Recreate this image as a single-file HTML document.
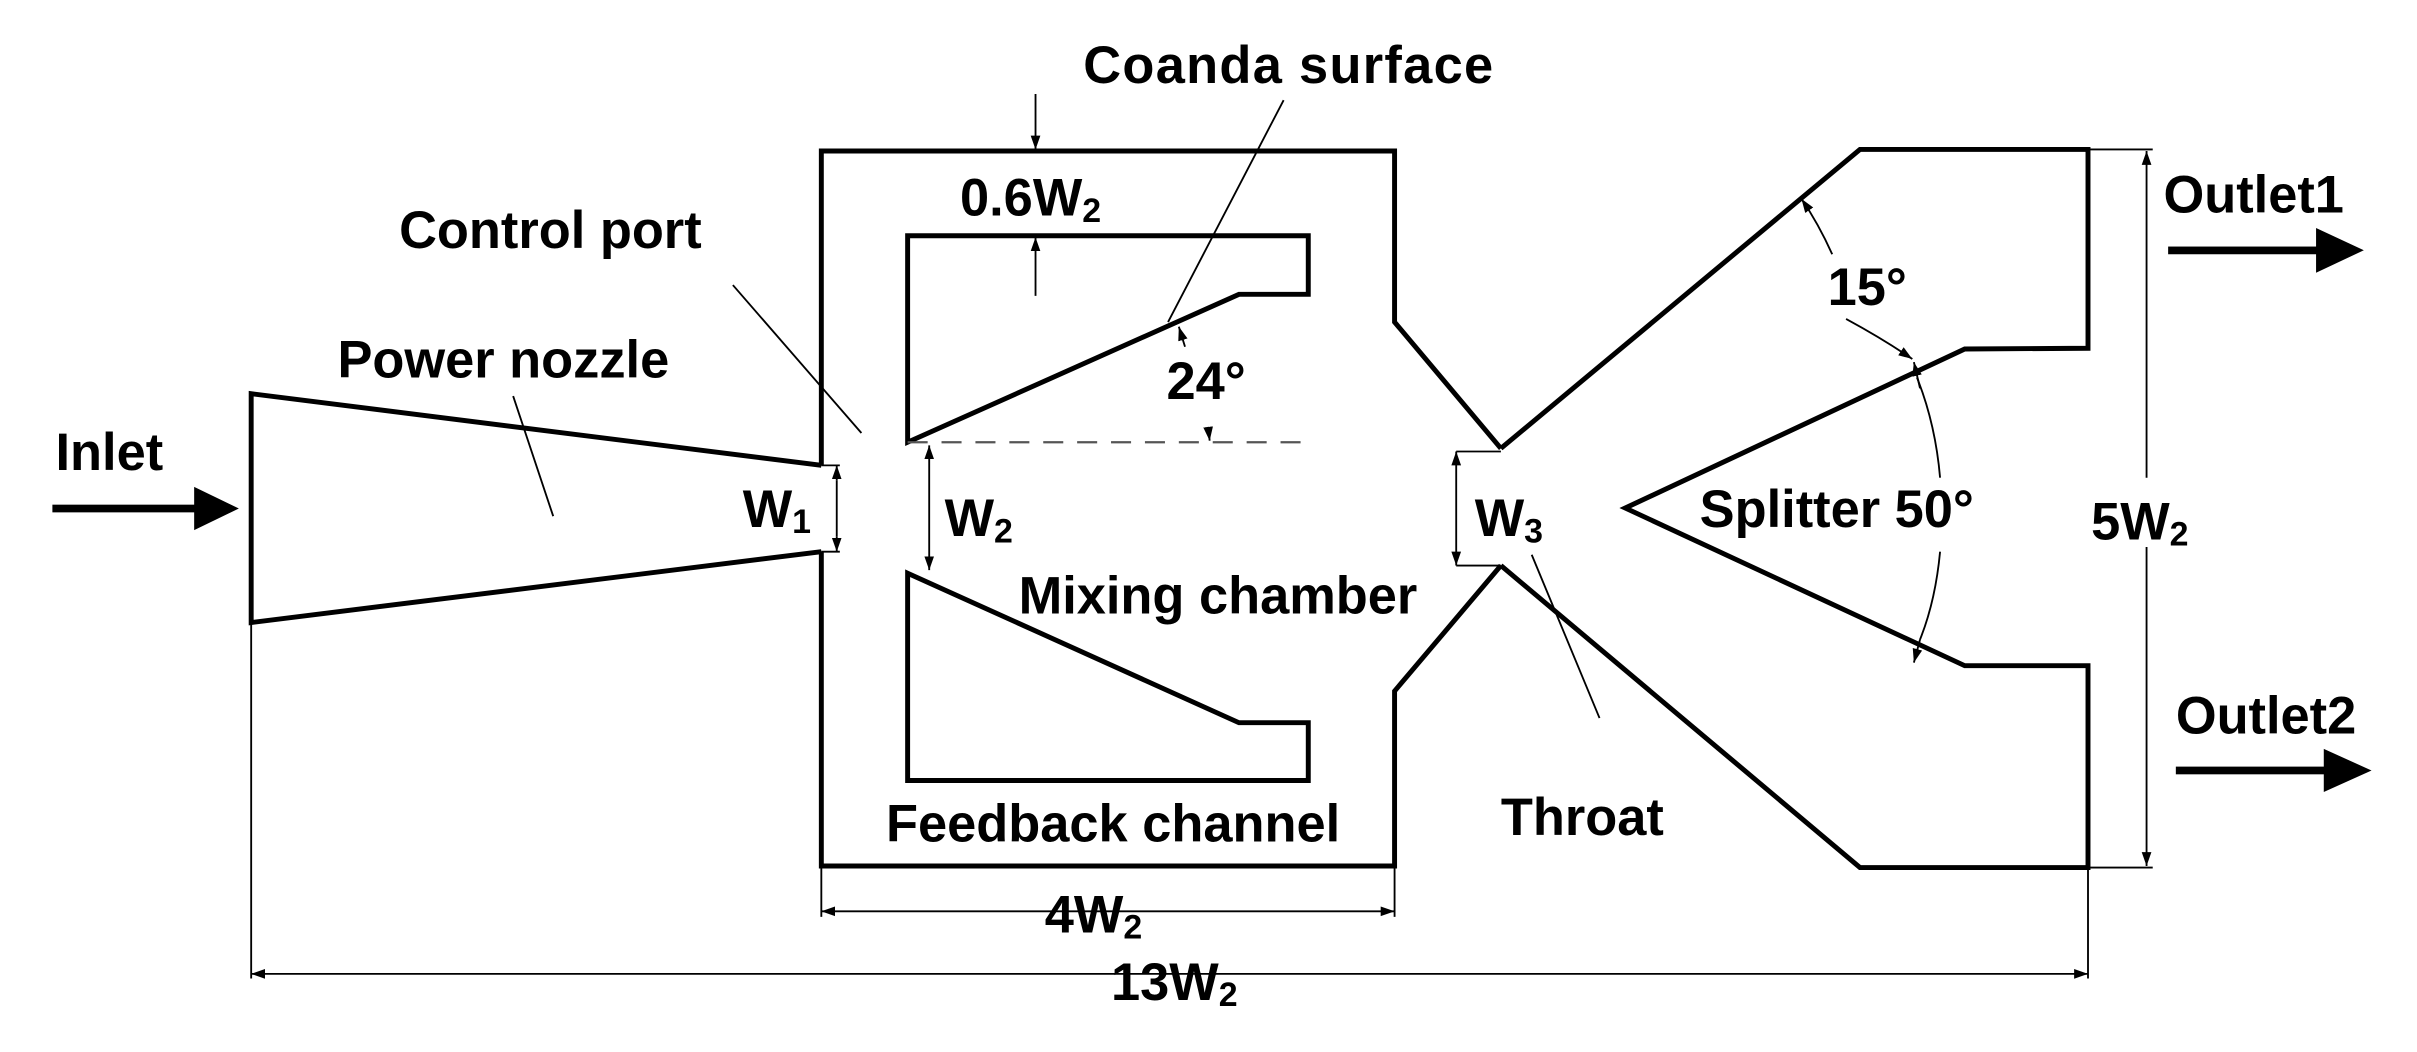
<!DOCTYPE html>
<html><head><meta charset="utf-8"><style>
html,body{margin:0;padding:0;background:#fff}
svg{display:block}
text{font-family:"Liberation Sans",sans-serif;font-weight:bold;fill:#000}
</style></head><body>
<svg width="2417" height="1052" viewBox="0 0 1568.5 682.7" preserveAspectRatio="none" xmlns="http://www.w3.org/2000/svg">
<defs>
<marker id="a" viewBox="0 0 10 10" refX="10" refY="5" markerWidth="9" markerHeight="9" markerUnits="userSpaceOnUse" orient="auto-start-reverse"><path d="M0,1.5 L10,5 L0,8.5 z" fill="#000"/></marker>
</defs>
<g fill="none" stroke="#000" stroke-width="3.2" stroke-linejoin="miter">
<polyline points="533,302 163,255.5 163,404 533,358"/>
<polyline points="533,302 533,98 905,98 905,209 974,291"/>
<polyline points="533,358 533,562 905,562 905,448.5 974,367"/>
<polyline points="974,291 1207,97 1355,97 1355,226 1275,226.5 1054.7,329.7 1275,432 1355,432 1355,563 1207,563 974,367"/>
<polygon points="589,153 849,153 849,191 804,191 589,287"/>
<polygon points="589,372 804,469 849,469 849,506.5 589,506.5"/>
</g>
<g fill="none" stroke="#000" stroke-width="1.2">
<line x1="589" y1="287" x2="851" y2="287" stroke="#555" stroke-dasharray="13,9" stroke-width="1.4"/>
<line x1="833" y1="65" x2="758" y2="209"/>
<line x1="475.6" y1="185" x2="559" y2="281"/>
<line x1="333" y1="257" x2="359" y2="335"/>
<line x1="994" y1="360" x2="1038" y2="466"/>
<line x1="533" y1="302" x2="545" y2="302"/><line x1="533" y1="358" x2="545" y2="358"/>
<line x1="543" y1="312" x2="543" y2="302" marker-end="url(#a)"/>
<line x1="543" y1="348" x2="543" y2="358" marker-end="url(#a)"/>
<line x1="543" y1="312" x2="543" y2="348"/>
<line x1="603" y1="289" x2="603" y2="370" marker-start="url(#a)" marker-end="url(#a)"/>
<line x1="945" y1="293" x2="974" y2="293"/><line x1="945" y1="367" x2="974" y2="367"/>
<line x1="945" y1="293" x2="945" y2="367" marker-start="url(#a)" marker-end="url(#a)"/>
<line x1="672" y1="61" x2="672" y2="97" marker-end="url(#a)"/>
<line x1="672" y1="192" x2="672" y2="154" marker-end="url(#a)"/>
<line x1="784" y1="277" x2="785" y2="286" marker-end="url(#a)"/>
<line x1="769" y1="225" x2="765" y2="212" marker-end="url(#a)"/>
<!-- 15 deg arc -->
<path d="M1169,129 Q1180,145 1189,165" marker-start="url(#a)"/>
<path d="M1198,207 Q1222,220 1241,233" marker-end="url(#a)"/>
<!-- 50 deg -->
<path d="M1244,245 Q1256,275 1259,310"/>
<line x1="1246" y1="252" x2="1242" y2="235" marker-end="url(#a)"/>
<path d="M1259,358 Q1256,390 1246,415"/>
<line x1="1246" y1="415" x2="1242" y2="430" marker-end="url(#a)"/>
<line x1="1355" y1="97" x2="1397" y2="97"/><line x1="1355" y1="563" x2="1397" y2="563"/>
<line x1="1393" y1="310" x2="1393" y2="98" marker-end="url(#a)"/>
<line x1="1393" y1="355" x2="1393" y2="562" marker-end="url(#a)"/>
<line x1="533" y1="562" x2="533" y2="595"/><line x1="905" y1="562" x2="905" y2="595"/>
<line x1="533" y1="591.4" x2="905" y2="591.4" marker-start="url(#a)" marker-end="url(#a)"/>
<line x1="163" y1="404" x2="163" y2="635"/><line x1="1355" y1="563" x2="1355" y2="635"/>
<line x1="163" y1="632" x2="1355" y2="632" marker-start="url(#a)" marker-end="url(#a)"/>
</g>
<g fill="#000">
<rect x="34" y="327.5" width="96" height="5"/><polygon points="126,316 155,330 126,344"/>
<rect x="1407" y="160" width="100" height="5"/><polygon points="1503,148 1534,162.4 1503,177"/>
<rect x="1412" y="497.5" width="100" height="5"/><polygon points="1508,486 1539,500 1508,514"/>
</g>
<g font-size="34">
<text x="703" y="54" textLength="266">Coanda surface</text>
<text x="259" y="161">Control port</text>
<text x="623" y="140">0.6W<tspan font-size="22" dy="4">2</tspan></text>
<text x="219" y="245">Power nozzle</text>
<text x="36" y="305">Inlet</text>
<text x="482" y="342">W<tspan font-size="22" dy="4">1</tspan></text>
<text x="613" y="348">W<tspan font-size="22" dy="4">2</tspan></text>
<text x="661" y="398">Mixing chamber</text>
<text x="575" y="546">Feedback channel</text>
<text x="678" y="605">4W<tspan font-size="22" dy="4">2</tspan></text>
<text x="721" y="649">13W<tspan font-size="22" dy="4">2</tspan></text>
<text x="757" y="259">24°</text>
<text x="957" y="348">W<tspan font-size="22" dy="4">3</tspan></text>
<text x="974" y="542">Throat</text>
<text x="1103" y="342">Splitter 50°</text>
<text x="1357" y="350">5W<tspan font-size="22" dy="4">2</tspan></text>
<text x="1186" y="198">15°</text>
<text x="1404" y="138">Outlet1</text>
<text x="1412" y="476">Outlet2</text>
</g>
</svg>
</body></html>
